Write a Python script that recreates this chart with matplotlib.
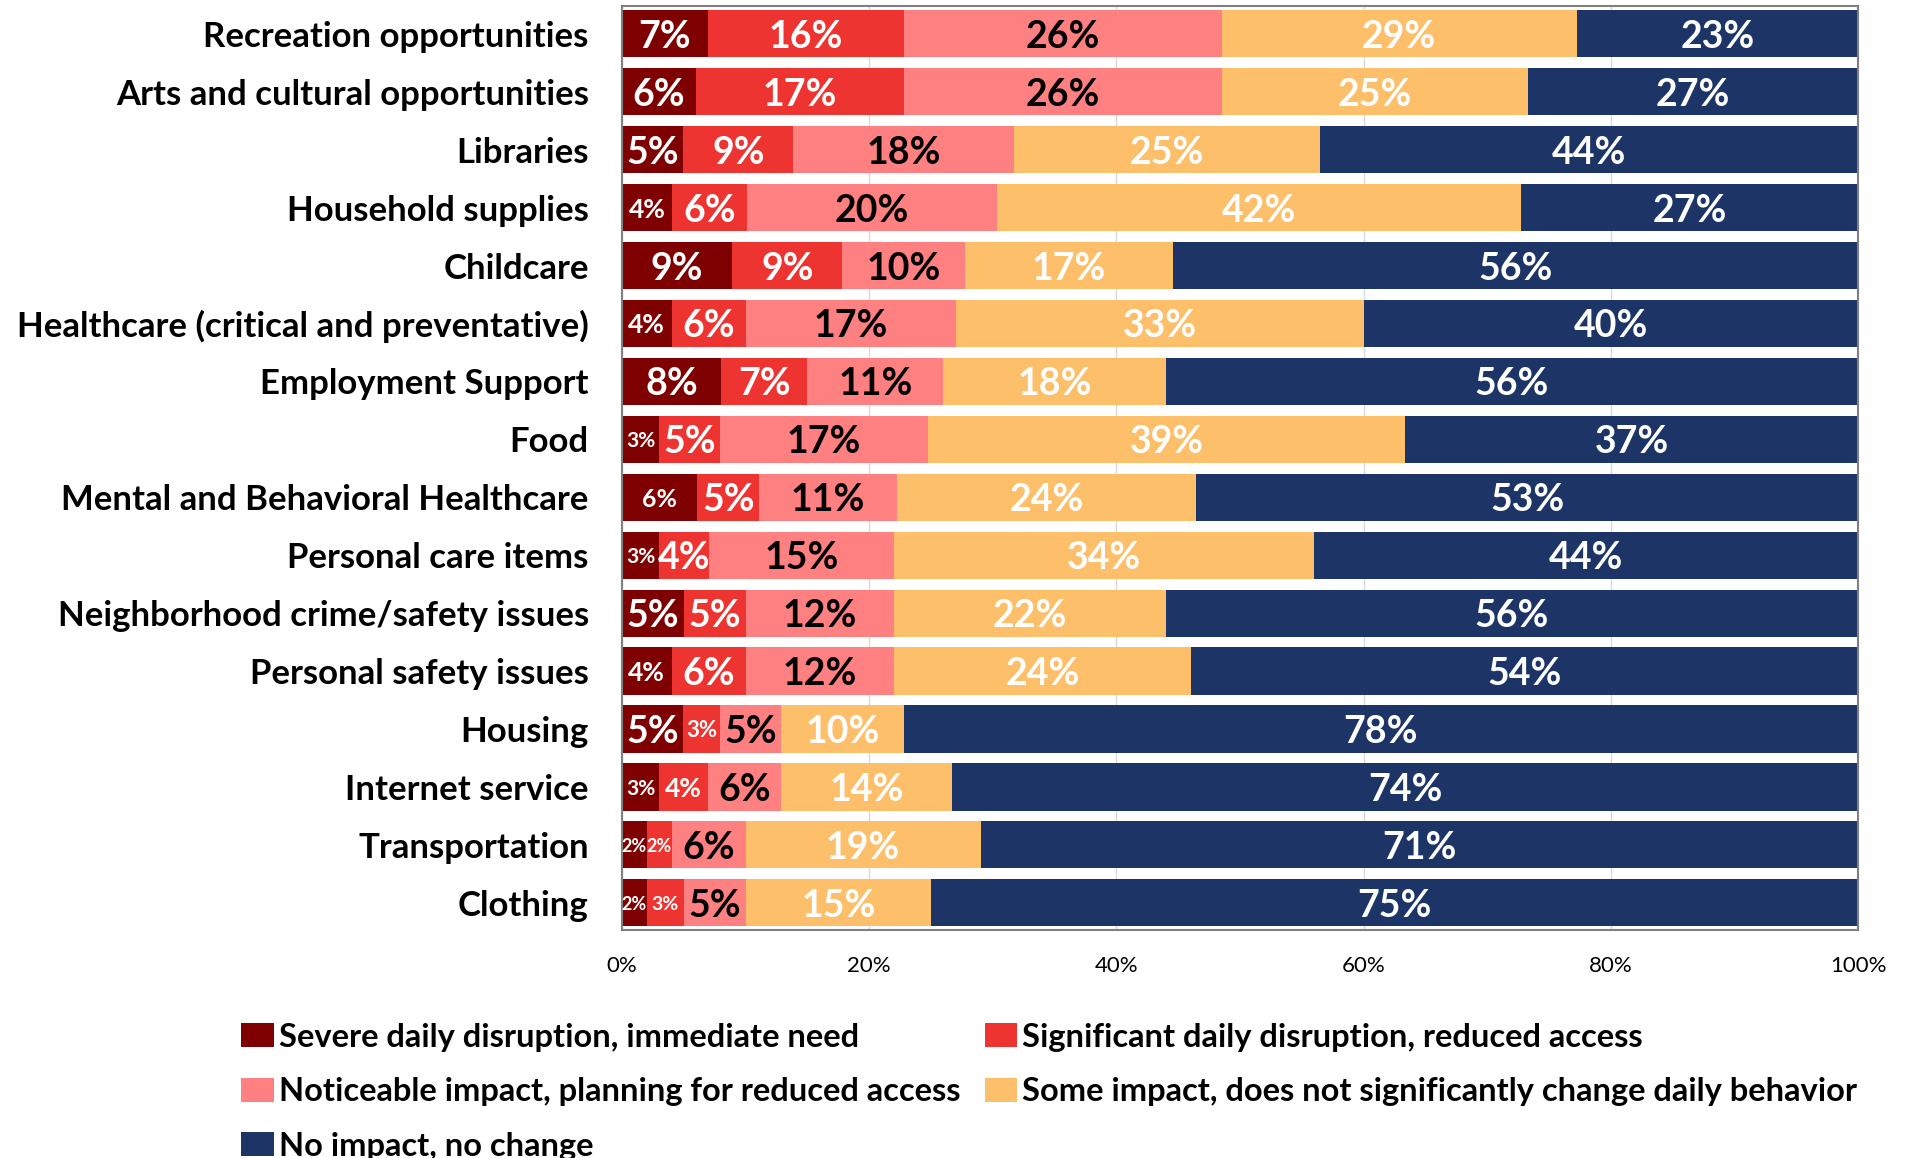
import numpy as np
import matplotlib
matplotlib.use("Agg")
import matplotlib.pyplot as plt
from matplotlib.patches import Patch

plt.rcParams['font.family'] = ['Lato', 'DejaVu Sans']

# 서비스 항목 (위에서 아래 순서)
services = [
    "Recreation opportunities",
    "Arts and cultural opportunities",
    "Libraries",
    "Household supplies",
    "Childcare",
    "Healthcare (critical and preventative)",
    "Employment Support",
    "Food",
    "Mental and Behavioral Healthcare",
    "Personal care items",
    "Neighborhood crime/safety issues",
    "Personal safety issues",
    "Housing",
    "Internet service",
    "Transportation",
    "Clothing",
]

# 응답 비율 (%)
severe      = [7, 6, 5, 4, 9, 4, 8, 3, 6, 3, 5, 4, 5, 3, 2, 2]
significant = [16, 17, 9, 6, 9, 6, 7, 5, 5, 4, 5, 6, 3, 4, 2, 3]
noticeable  = [26, 26, 18, 20, 10, 17, 11, 17, 11, 15, 12, 12, 5, 6, 6, 5]
some        = [29, 25, 25, 42, 17, 33, 18, 39, 24, 34, 22, 24, 10, 14, 19, 15]
no_impact   = [23, 27, 44, 27, 56, 40, 56, 37, 53, 44, 56, 54, 78, 74, 71, 75]

levels = [
    "Severe daily disruption, immediate need",
    "Significant daily disruption, reduced access",
    "Noticeable impact, planning for reduced access",
    "Some impact, does not significantly change daily behavior",
    "No impact, no change",
]
colors = ["#7F0000", "#EE3430", "#FF8080", "#FDBF6A", "#1D3467"]
text_colors = ["white", "white", "black", "white", "white"]

# 좁은 칸 라벨 글자 크기 (행, 열) -> pt
small_labels = {
    (3, 0): 19, (5, 0): 19, (7, 0): 15, (8, 0): 18, (9, 0): 15,
    (11, 0): 19, (12, 1): 16, (13, 0): 15, (13, 1): 19,
    (14, 0): 13, (14, 1): 13, (15, 0): 13, (15, 1): 14,
}

data = np.array([severe, significant, noticeable, some, no_impact], dtype=float)
shares = data / data.sum(axis=0) * 100  # 100% 누적 막대

fig = plt.figure(figsize=(19.1, 11.58), dpi=100)
ax = fig.add_axes([0.3257, 0.1969, 0.6471, 0.7979])

y = np.arange(len(services))
left = np.zeros(len(services))
for i in range(len(levels)):
    bars = ax.barh(y, shares[i], left=left, height=0.815, color=colors[i],
                   edgecolor="none", label=levels[i], zorder=2)
    for j, bar in enumerate(bars):
        ax.text(bar.get_x() + bar.get_width() / 2, bar.get_y() + bar.get_height() / 2,
                f"{int(data[i, j])}%", ha="center", va="center_baseline",
                color=text_colors[i], fontweight="bold",
                fontsize=small_labels.get((j, i), 27), zorder=3)
    left += shares[i]

ax.set_xlim(0, 100)
ax.set_ylim(len(services) - 0.53, -0.48)
ax.set_yticks(y)
ax.set_yticklabels(services, fontsize=25, fontweight="bold")
ax.set_xticks(np.arange(0, 101, 20))
ax.set_xticklabels([f"{t}%" for t in range(0, 101, 20)], fontsize=16)
ax.tick_params(axis="y", length=0, pad=24)
ax.tick_params(axis="x", length=0, pad=19)
ax.grid(axis="x", color="#D9D9D9", linewidth=1, zorder=0)
for s in ax.spines.values():
    s.set_color("#808080")
    s.set_linewidth(1.5)

handles = [Patch(facecolor=c, edgecolor="none") for c in colors]
order = [0, 2, 4, 1, 3]
fig.legend([handles[k] for k in order], [levels[k] for k in order],
           loc="upper left", bbox_to_anchor=(0.1195, 0.128), ncol=2,
           frameon=False, prop={"size": 23.5, "weight": "bold"},
           handlelength=1.0, handleheight=0.75, handletextpad=0.15,
           columnspacing=0.75, labelspacing=0.78, borderaxespad=0)

fig.savefig("out.png", dpi=100)
